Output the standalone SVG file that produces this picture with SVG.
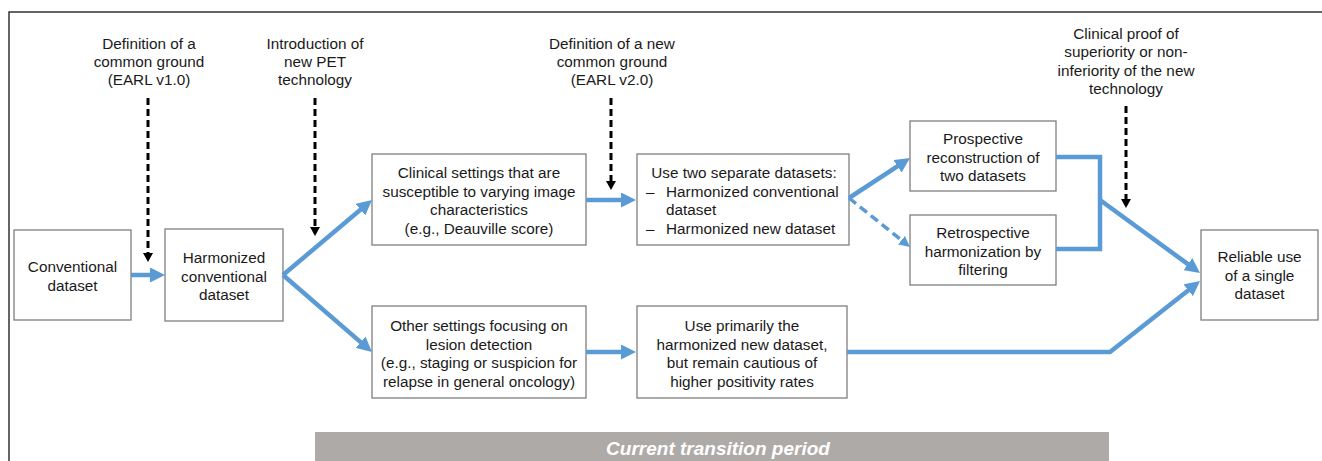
<svg xmlns="http://www.w3.org/2000/svg" width="1322" height="461" viewBox="0 0 1322 461">
  <style>
    .box { fill: #ffffff; stroke: #7f7f7f; stroke-width: 1.3; }
    .txt { font-family: "Liberation Sans", Arial, sans-serif; font-size: 15.3px; fill: #1a1a1a; text-anchor: middle; }
    .txtl { font-family: "Liberation Sans", Arial, sans-serif; font-size: 15.3px; fill: #1a1a1a; }
    .flow { fill: none; stroke: #5b9bd5; stroke-width: 4.5; stroke-linejoin: miter; }
    .flowdash { fill: none; stroke: #5b9bd5; stroke-width: 3.5; stroke-dasharray: 9 5; }
    .event { fill: none; stroke: #000000; stroke-width: 3; stroke-dasharray: 7 4; }
    .frame { fill: none; stroke: #333333; stroke-width: 1.5; }
    .band { fill: #aeaaa8; }
    .bandtxt { font-family: "Liberation Sans", Arial, sans-serif; font-size: 19px; font-weight: bold; font-style: italic; fill: #ffffff; text-anchor: middle; }
  </style>
  <defs>
    <marker id="blueHead" markerUnits="userSpaceOnUse" markerWidth="15" markerHeight="15" refX="3" refY="7.5" orient="auto">
      <path d="M0,0 L15,7.5 L0,15 z" fill="#5b9bd5"/>
    </marker>
    <marker id="blueHeadSmall" markerUnits="userSpaceOnUse" markerWidth="11" markerHeight="11" refX="2" refY="5.5" orient="auto">
      <path d="M0,0 L11,5.5 L0,11 z" fill="#5b9bd5"/>
    </marker>
    <marker id="blackHead" markerUnits="userSpaceOnUse" markerWidth="9" markerHeight="10" refX="2" refY="5" orient="auto">
      <path d="M0,0 L9,5 L0,10 z" fill="#000000"/>
    </marker>
  </defs>

  <rect width="1322" height="461" fill="#ffffff"/>

  <!-- outer frame (top and left edges) -->
  <path class="frame" d="M9,461 L9,12 L1322,12"/>

  <!-- timeline band -->
  <g id="transition-band">
    <rect class="band" x="315" y="432" width="794" height="29"/>
    <text class="bandtxt" x="718" y="454.5">Current transition period</text>
  </g>

  <!-- event labels -->
  <g id="event-earl1">
    <text class="txt" x="149" y="48.5">Definition of a</text>
    <text class="txt" x="149" y="66.5">common ground</text>
    <text class="txt" x="149" y="84.5">(EARL v1.0)</text>
  </g>
  <g id="event-pet">
    <text class="txt" x="315" y="48.5">Introduction of</text>
    <text class="txt" x="315" y="66.5">new PET</text>
    <text class="txt" x="315" y="84.5">technology</text>
  </g>
  <g id="event-earl2">
    <text class="txt" x="612" y="48.5">Definition of a new</text>
    <text class="txt" x="612" y="66.5">common ground</text>
    <text class="txt" x="612" y="84.5">(EARL v2.0)</text>
  </g>
  <g id="event-proof">
    <text class="txt" x="1126" y="38.5">Clinical proof of</text>
    <text class="txt" x="1126" y="57">superiority or non-</text>
    <text class="txt" x="1126" y="75.5">inferiority of the new</text>
    <text class="txt" x="1126" y="94">technology</text>
  </g>

  <!-- nodes -->
  <g id="conventional">
    <rect class="box" x="14" y="230" width="117" height="90"/>
    <text class="txt" x="72.5" y="272">Conventional</text>
    <text class="txt" x="72.5" y="290.5">dataset</text>
  </g>
  <g id="harmonized-conventional">
    <rect class="box" x="165" y="229" width="118" height="92"/>
    <text class="txt" x="224" y="263">Harmonized</text>
    <text class="txt" x="224" y="281.5">conventional</text>
    <text class="txt" x="224" y="300">dataset</text>
  </g>
  <g id="clinical-settings">
    <rect class="box" x="372" y="154" width="214" height="91"/>
    <text class="txt" x="479" y="178">Clinical settings that are</text>
    <text class="txt" x="479" y="196.5">susceptible to varying image</text>
    <text class="txt" x="479" y="215">characteristics</text>
    <text class="txt" x="479" y="233.5">(e.g., Deauville score)</text>
  </g>
  <g id="two-datasets">
    <rect class="box" x="637" y="154" width="212" height="91"/>
    <text class="txt" x="744" y="178">Use two separate datasets:</text>
    <text class="txtl" x="646" y="196.5">–</text>
    <text class="txtl" x="666" y="196.5">Harmonized conventional</text>
    <text class="txtl" x="666" y="215">dataset</text>
    <text class="txtl" x="646" y="233.5">–</text>
    <text class="txtl" x="666" y="233.5">Harmonized new dataset</text>
  </g>
  <g id="prospective">
    <rect class="box" x="910" y="121" width="146" height="70"/>
    <text class="txt" x="983" y="144">Prospective</text>
    <text class="txt" x="983" y="162.5">reconstruction of</text>
    <text class="txt" x="983" y="181">two datasets</text>
  </g>
  <g id="retrospective">
    <rect class="box" x="910" y="215" width="146" height="70"/>
    <text class="txt" x="983" y="238">Retrospective</text>
    <text class="txt" x="983" y="256.5">harmonization by</text>
    <text class="txt" x="983" y="275">filtering</text>
  </g>
  <g id="reliable-use">
    <rect class="box" x="1201" y="230" width="117" height="90"/>
    <text class="txt" x="1259.5" y="262">Reliable use</text>
    <text class="txt" x="1259.5" y="280.5">of a single</text>
    <text class="txt" x="1259.5" y="299">dataset</text>
  </g>
  <g id="other-settings">
    <rect class="box" x="372" y="306" width="214" height="92"/>
    <text class="txt" x="479" y="331">Other settings focusing on</text>
    <text class="txt" x="479" y="349.5">lesion detection</text>
    <text class="txt" x="479" y="368">(e.g., staging or suspicion for</text>
    <text class="txt" x="479" y="386.5">relapse in general oncology)</text>
  </g>
  <g id="primarily-new">
    <rect class="box" x="637" y="306" width="210" height="92"/>
    <text class="txt" x="742" y="331">Use primarily the</text>
    <text class="txt" x="742" y="349.5">harmonized new dataset,</text>
    <text class="txt" x="742" y="368">but remain cautious of</text>
    <text class="txt" x="742" y="386.5">higher positivity rates</text>
  </g>

  <!-- connectors -->
  <g id="connectors">
    <!-- event markers -->
    <line class="event" x1="148" y1="98" x2="148" y2="255" marker-end="url(#blackHead)"/>
    <line class="event" x1="315" y1="98" x2="315" y2="229" marker-end="url(#blackHead)"/>
    <line class="event" x1="611" y1="98" x2="611" y2="183" marker-end="url(#blackHead)"/>
    <line class="event" x1="1126" y1="106" x2="1126" y2="201" marker-end="url(#blackHead)"/>

    <!-- workflow -->
    <line class="flow" x1="131" y1="275" x2="153" y2="275" marker-end="url(#blueHead)"/>
    <line class="flow" x1="283" y1="275" x2="362.8" y2="207.7" marker-end="url(#blueHead)"/>
    <line class="flow" x1="283" y1="275" x2="362.9" y2="344.1" marker-end="url(#blueHead)"/>
    <line class="flow" x1="586" y1="200" x2="624" y2="200" marker-end="url(#blueHead)"/>
    <line class="flow" x1="586" y1="352" x2="624" y2="352" marker-end="url(#blueHead)"/>
    <line class="flow" x1="849" y1="198" x2="900" y2="164.6" marker-end="url(#blueHead)"/>
    <line class="flowdash" x1="849" y1="198" x2="903" y2="241.4" marker-end="url(#blueHeadSmall)"/>
    <polyline class="flow" points="1056,157 1100,157 1100,249 1056,249"/>
    <line class="flow" x1="1100" y1="200" x2="1190.3" y2="265.9" marker-end="url(#blueHead)"/>
    <polyline class="flow" points="847,352 1110,352 1190.6,288.4" marker-end="url(#blueHead)"/>
  </g>
</svg>
